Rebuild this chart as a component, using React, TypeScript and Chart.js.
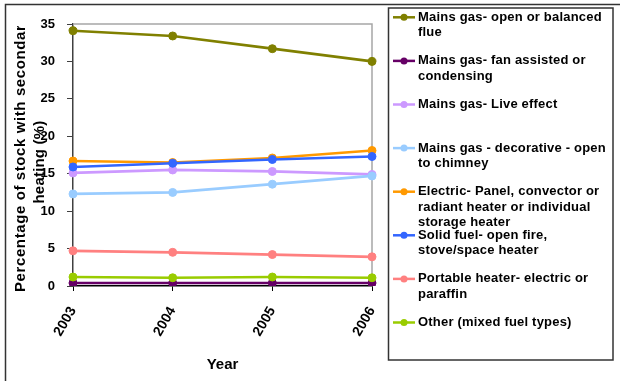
import React, { useEffect, useRef } from 'react';
import { Chart, registerables } from 'chart.js';

Chart.register(...registerables);

// ---- data ----
const years = ['2003', '2004', '2005', '2006'];

const seriesLabels: string[][] = [
  ['Mains gas- open or balanced', 'flue'],
  ['Mains gas- fan assisted or', 'condensing'],
  ['Mains gas- Live effect'],
  ['Mains gas - decorative - open', 'to chimney'],
  ['Electric- Panel, convector or', 'radiant heater or individual', 'storage heater'],
  ['Solid fuel- open fire,', 'stove/space heater'],
  ['Portable heater- electric or', 'paraffin'],
  ['Other (mixed fuel types)'],
];

const mainsOpenBalancedFlue = [34.1, 33.4, 31.7, 30.0];
const mainsFanAssisted = [0.4, 0.4, 0.4, 0.4];
const mainsLiveEffect = [15.1, 15.5, 15.3, 14.9];
const mainsDecorative = [12.3, 12.5, 13.6, 14.7];
const electricPanel = [16.7, 16.5, 17.1, 18.1];
const solidFuel = [15.9, 16.4, 16.9, 17.3];
const portableHeater = [4.7, 4.5, 4.2, 3.9];
const otherMixed = [1.2, 1.1, 1.2, 1.1];

const seriesValues = [
  mainsOpenBalancedFlue,
  mainsFanAssisted,
  mainsLiveEffect,
  mainsDecorative,
  electricPanel,
  solidFuel,
  portableHeater,
  otherMixed,
];

const seriesColors = ['#808000', '#660066', '#CC99FF', '#99CCFF', '#FF9900', '#3366FF', '#FF8080', '#99CC00'];

const yTitleLines = ['Percentage of stock with secondary', 'heating (%)'];
const xTitle = 'Year';

const FONT = '"Liberation Sans", Arial, sans-serif';

const decorPlugin = {
  id: 'decor',
  beforeDatasetsDraw(chart: any) {
    const ctx = chart.ctx;
    const { left, right, top, bottom } = chart.chartArea;
    ctx.save();
    ctx.strokeStyle = '#a6a6a6';
    ctx.lineWidth = 1.5;
    ctx.beginPath();
    ctx.moveTo(left, top);
    ctx.lineTo(right, top);
    ctx.lineTo(right, bottom);
    ctx.stroke();
    ctx.restore();
  },
  afterDraw(chart: any) {
    const ctx = chart.ctx;
    const { left, right } = chart.chartArea;
    ctx.save();

    // outer frame
    ctx.strokeStyle = '#333';
    ctx.lineWidth = 1.5;
    ctx.strokeRect(5.5, 4.5, 800, 600);

    // y title
    ctx.save();
    ctx.beginPath();
    ctx.rect(0, 26, 120, 400);
    ctx.clip();
    ctx.fillStyle = '#000';
    ctx.font = `bold 15px ${FONT}`;
    ctx.textBaseline = 'alphabetic';
    ctx.translate(25, 292);
    ctx.rotate(-Math.PI / 2);
    ctx.textAlign = 'left';
    (ctx as any).letterSpacing = '0.6px';
    ctx.fillText(yTitleLines[0], 0, 0);
    (ctx as any).letterSpacing = '0.2px';
    ctx.textAlign = 'center';
    ctx.fillText(yTitleLines[1], 130, 19);
    (ctx as any).letterSpacing = '0px';
    ctx.restore();

    // x title
    ctx.fillStyle = '#000';
    ctx.font = `bold 15px ${FONT}`;
    ctx.textAlign = 'center';
    ctx.textBaseline = 'middle';
    ctx.fillText(xTitle, (left + right) / 2, 365);

    // legend box
    ctx.strokeStyle = '#333';
    ctx.lineWidth = 1.5;
    ctx.strokeRect(388.5, 8, 224.5, 352);

    ctx.font = `bold 13px ${FONT}`;
    ctx.textAlign = 'left';
    ctx.textBaseline = 'middle';
    (ctx as any).letterSpacing = '0.2px';
    chart.data.datasets.forEach((ds: any, i: number) => {
      const y0 = 17.3 + 43.6 * i;
      ctx.strokeStyle = ds.borderColor;
      ctx.lineWidth = 2.5;
      ctx.beginPath();
      ctx.moveTo(393, y0);
      ctx.lineTo(415, y0);
      ctx.stroke();
      ctx.fillStyle = ds.borderColor;
      ctx.beginPath();
      ctx.arc(404, y0, 3.5, 0, Math.PI * 2);
      ctx.fill();
      ctx.fillStyle = '#000';
      seriesLabels[i].forEach((line, j) => {
        ctx.fillText(line, 418, y0 + j * 15.5);
      });
    });
    (ctx as any).letterSpacing = '0px';

    ctx.restore();
  },
};

export default function App() {
  const canvasRef = useRef<HTMLCanvasElement | null>(null);

  useEffect(() => {
    document.body.style.margin = '0';
    const canvas = canvasRef.current;
    if (!canvas) return;
    const chart = new Chart(canvas, {
      type: 'line',
      data: {
        labels: years,
        datasets: seriesValues.map((vals, i) => ({
          label: seriesLabels[i].join(' '),
          data: vals,
          borderColor: seriesColors[i],
          backgroundColor: seriesColors[i],
          pointBackgroundColor: seriesColors[i],
          pointBorderColor: seriesColors[i],
          borderWidth: 2.7,
          pointRadius: 4,
          pointBorderWidth: 1,
          fill: false,
          tension: 0,
          order: seriesValues.length - i,
        })),
      },
      options: {
        responsive: false,
        animation: false,
        devicePixelRatio: 1,
        layout: { padding: { left: 0, right: 248, top: 24, bottom: 0 } },
        plugins: {
          legend: { display: false },
          tooltip: { enabled: false },
        },
        scales: {
          x: {
            type: 'category',
            offset: false,
            grid: { display: true, drawOnChartArea: false, drawTicks: true, tickLength: 5, color: '#000', lineWidth: 1 },
            border: { display: true, color: '#000', width: 1.5 },
            ticks: {
              autoSkip: false,
              minRotation: 60,
              maxRotation: 60,
              padding: 13,
              color: '#000',
              font: { family: FONT, size: 14, weight: 'bold' },
            },
            afterFit: (s: any) => {
              s.height = 95;
            },
          },
          y: {
            min: 0,
            max: 35,
            ticks: {
              stepSize: 5,
              padding: 12,
              color: '#000',
              font: { family: FONT, size: 13, weight: 'bold' },
            },
            grid: { display: true, drawOnChartArea: false, drawTicks: true, tickLength: 6, color: '#404040', lineWidth: 1 },
            border: { display: true, color: '#404040', width: 1.5 },
            afterFit: (s: any) => {
              s.width = 73;
            },
          },
        },
      } as any,
      plugins: [decorPlugin],
    });
    return () => chart.destroy();
  }, []);

  return (
    <div style={{ position: 'fixed', left: 0, top: 0, width: 620, height: 381, background: '#fff' }}>
      <canvas ref={canvasRef} width={620} height={381} style={{ width: 620, height: 381, display: 'block' }} />
    </div>
  );
}
